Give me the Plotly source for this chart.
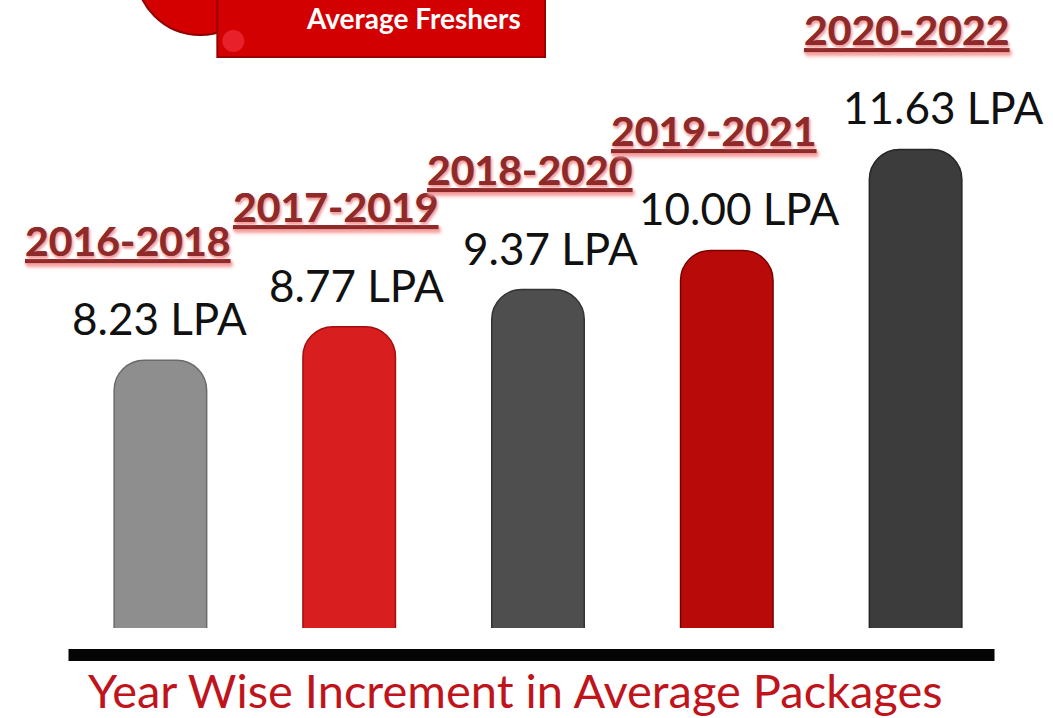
import plotly.graph_objects as go

# ---- data ----
periods = ["2016-2018", "2017-2019", "2018-2020", "2019-2021", "2020-2022"]
packages = [8.23, 8.77, 9.37, 10.00, 11.63]
value_labels = ["8.23 LPA", "8.77 LPA", "9.37 LPA", "10.00 LPA", "11.63 LPA"]
title_text = "Year Wise Increment in Average Packages"
banner_text = "Average Freshers"

# ---- styles ----
bar_colors = ["#8e8e8e", "#d81e1e", "#4e4e4e", "#b90a0a", "#3c3c3c"]
bar_lines = ["#6a6a6a", "#a01010", "#333333", "#7a0000", "#262626"]
value_xshift = [-1, 7, 12, 13, 28]
year_xshift = [-32, -13, -8, -13, -9]

W, H = 1053, 718
L, R, T, B = 65.5, 42.5, 0, 90
PW, PH = W - L - R, H - T - B


def px(x):
    return (x - L) / PW


def py(y):
    return (H - B - y) / PH


fig = go.Figure()
fig.add_trace(go.Bar(
    x=periods, y=packages,
    marker=dict(color=bar_colors, line=dict(color=bar_lines, width=1.5)),
    width=0.49, hoverinfo="skip",
))

annotations = []
for i, (p, v, lab) in enumerate(zip(periods, packages, value_labels)):
    annotations.append(dict(
        x=p, y=v, xref="x", yref="y", text=lab, showarrow=False,
        yanchor="middle", yshift=42, xshift=value_xshift[i],
        font=dict(family="Lato, sans-serif", size=44, color="#111111"),
    ))
    annotations.append(dict(
        x=p, y=v, xref="x", yref="y", text="<u>" + p + "</u>", showarrow=False,
        yanchor="middle", yshift=120, xshift=year_xshift[i],
        font=dict(family="Lato, sans-serif", size=41, color="#8e2a2a", weight="bold",
                  shadow="1px 2px 3px #f4a0a0"),
    ))

annotations.append(dict(
    x=px(515), y=py(690), xref="paper", yref="paper", text=title_text,
    showarrow=False, xanchor="center", yanchor="middle",
    font=dict(family="Lato, sans-serif", size=47, color="#c0141c"),
))
annotations.append(dict(
    x=px(413), y=py(18), xref="paper", yref="paper", text=banner_text,
    showarrow=False, xanchor="center", yanchor="middle",
    font=dict(family="Lato, sans-serif", size=28, color="#ffffff", weight="bold"),
))

shapes = [
    # banner circle
    dict(type="circle", xref="paper", yref="paper",
         x0=px(135), x1=px(265), y0=py(-95), y1=py(35),
         fillcolor="#d40000", line=dict(color="#8f0000", width=2), layer="above"),
    # banner rectangle
    dict(type="rect", xref="paper", yref="paper",
         x0=px(217), x1=px(545), y0=py(-5), y1=py(57),
         fillcolor="#d20000", line=dict(color="#9b0000", width=2), layer="above"),
    dict(type="circle", xref="paper", yref="paper",
         x0=px(222), x1=px(244), y0=py(30), y1=py(52),
         fillcolor="#e8202a", line=dict(width=0), layer="above"),
    # base line
    dict(type="rect", xref="paper", yref="paper",
         x0=px(68), x1=px(995), y0=py(649), y1=py(661),
         fillcolor="#050505", line=dict(width=0)),
]

fig.update_layout(
    width=W, height=H,
    margin=dict(l=L, r=R, t=T, b=B, pad=0),
    paper_bgcolor="#ffffff", plot_bgcolor="#ffffff",
    barcornerradius=30,
    showlegend=False,
    xaxis=dict(visible=False, range=[-0.5, 4.5]),
    yaxis=dict(visible=False, range=[3.91, 14.04]),
    annotations=annotations,
    shapes=shapes,
)

fig.write_html(
    "out.html",
    config={"displayModeBar": False},
    post_script="document.body.style.margin='0';document.body.style.padding='0';document.body.style.overflow='hidden';",
)
